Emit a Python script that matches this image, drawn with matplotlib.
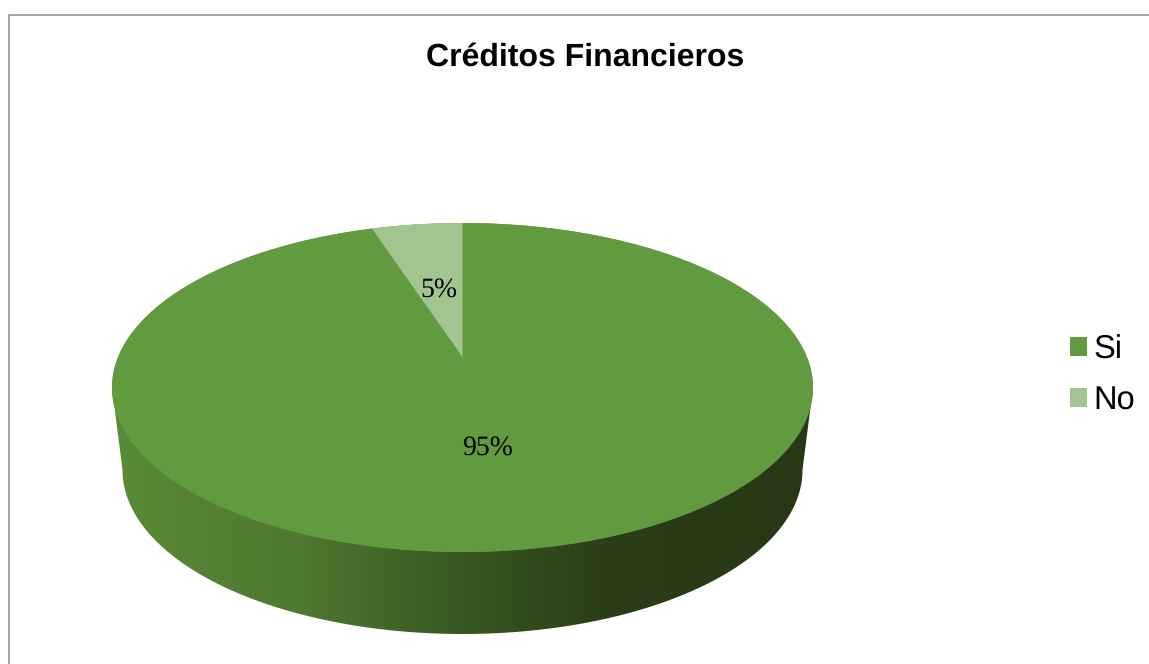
#!/usr/bin/env python
"""Plot the Créditos Financieros share as a tilted 3D-style pie."""

import matplotlib
matplotlib.use("Agg")
import matplotlib.pyplot as plt
import numpy as np
from matplotlib.colors import LinearSegmentedColormap
from matplotlib.patches import Ellipse, Patch, Polygon

title = "Créditos Financieros"
labels = ["Si", "No"]
shares = [95, 5]
colors = ["#629A3F", "#A2C491"]

W, H = 1149, 664
CX, CY = 462.5, 387.5  # top face
RX, RY = 350.5, 164.5
BX, BY = 340.0, 164.0  # bottom rim
BCY = 470.0
TILT = 0.185  # shift of the pie centre caused by the perspective

plt.rcParams["text.hinting"] = "no_hinting"


def rim(theta):
    """Points on the top face rim, theta clockwise from 12 o'clock (radians)."""
    u = np.sin(theta)
    v = np.cos(theta)
    d = 1 + v * TILT
    return CX + RX * u * np.sqrt(1 - TILT ** 2) / d, CY - RY * (v + TILT) / d


def centre():
    return CX, CY - RY * TILT


fig = plt.figure(figsize=(W / 100, H / 100), dpi=100)
ax = fig.add_axes([0, 0, 1, 1])
ax.set_xlim(0, W)
ax.set_ylim(H, 0)
ax.axis("off")

# chart frame, only the top and left edges fall inside the image
ax.plot([8.8, 8.8, W], [H, 14.5, 14.5], color="#8a8a8a", lw=1.1)

# side wall, shaded left to right
side_cmap = LinearSegmentedColormap.from_list(
    "side",
    [(0.0, "#5A8B37"), (0.27, "#4F7830"), (0.42, "#3F6326"), (0.55, "#34511E"),
     (0.72, "#2A3C18"), (1.0, "#283816")],
)
t = np.linspace(np.pi, 0, 200)
wall = np.column_stack([CX + BX * np.cos(t), BCY + BY * np.sin(t)])
wall = np.vstack([[CX - RX, CY], wall, [CX + RX, CY]])
wall_patch = Polygon(wall, closed=True, fc="none", ec="none")
ax.add_patch(wall_patch)
shade = ax.imshow(
    np.linspace(0, 1, 256).reshape(1, -1),
    cmap=side_cmap,
    extent=[CX - RX, CX + RX, BCY + BY + 1, CY],
    aspect="auto",
    zorder=1,
)
shade.set_clip_path(wall_patch)
ax.set_xlim(0, W)
ax.set_ylim(H, 0)

# top face, first slice starts at 12 o'clock and runs clockwise
ax.add_patch(Ellipse((CX, CY), 2 * RX, 2 * RY, fc=colors[0], ec="none", zorder=2))
start = 0.0
for share, color in zip(shares, colors):
    stop = start + share / sum(shares) * 2 * np.pi
    x, y = rim(np.linspace(start, stop, 300))
    cx0, cy0 = centre()
    pts = np.column_stack([np.r_[cx0, x], np.r_[cy0, y]])
    ax.add_patch(Polygon(pts, closed=True, fc=color, ec="none", zorder=3))
    start = stop

label_pos = [(487.5, 448.5), (438.5, 291)]
for share, (x, y) in zip(shares, label_pos):
    ax.text(x, y, "{}%".format(share), ha="center", va="center", fontsize=20,
            family="Liberation Serif", color="black", zorder=4)

ax.text(585, 57.5, title, ha="center", va="center", fontsize=23, fontweight="bold",
        family="Liberation Sans", color="black")

handles = [Patch(fc=c, ec="none", label=l) for c, l in zip(colors, labels)]
ax.legend(
    handles=handles,
    loc="center left",
    bbox_to_anchor=(1070 / W, 1 - 375.5 / H),
    bbox_transform=fig.transFigure,
    frameon=False,
    prop={"family": "Liberation Sans", "size": 23.5},
    handlelength=0.52,
    handleheight=0.52,
    handletextpad=0.2,
    labelspacing=0.62,
    borderpad=0,
    borderaxespad=0,
)

fig.savefig("out.png", dpi=100)
